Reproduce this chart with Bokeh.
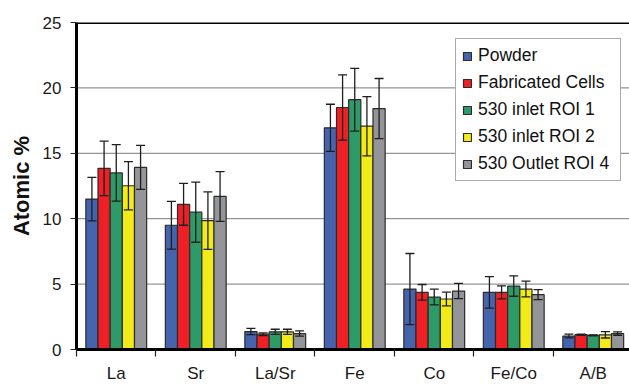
from bokeh.plotting import figure
from bokeh.models import (ColumnDataSource, FixedTicker, LinearAxis, Range1d,
                          Whisker, TeeHead, Legend, LegendItem, Span)
from bokeh.embed import file_html
from bokeh.resources import INLINE

# Composition of the cathode, atomic % with standard deviations
categories = ["La", "Sr", "La/Sr", "Fe", "Co", "Fe/Co", "A/B"]
series_names = ["Powder", "Fabricated Cells", "530 inlet ROI 1",
                "530 inlet ROI 2", "530 Outlet ROI 4"]

powder = [11.5, 9.5, 1.37, 16.95, 4.62, 4.37, 1.03]
powder_err = [1.66, 1.83, 0.24, 1.8, 2.72, 1.2, 0.14]
fabricated = [13.85, 11.1, 1.17, 18.5, 4.37, 4.37, 1.13]
fabricated_err = [2.08, 1.6, 0.1, 2.5, 0.6, 0.5, 0.05]
roi1 = [13.5, 10.5, 1.35, 19.1, 4.01, 4.85, 1.08]
roi1_err = [2.16, 2.3, 0.2, 2.4, 0.6, 0.78, 0.04]
roi2 = [12.52, 9.85, 1.35, 17.07, 3.86, 4.62, 1.12]
roi2_err = [1.84, 2.2, 0.2, 2.27, 0.52, 0.6, 0.24]
roi4 = [13.92, 11.7, 1.22, 18.42, 4.47, 4.19, 1.22]
roi4_err = [1.68, 1.9, 0.2, 2.3, 0.58, 0.38, 0.13]

y_ticks = [0, 5, 10, 15, 20, 25]

values = [powder, fabricated, roi1, roi2, roi4]
errors = [powder_err, fabricated_err, roi1_err, roi2_err, roi4_err]
colors = ["#4664AE", "#EE2025", "#2E9A68", "#F3EA1A", "#949598"]

FONT = "Liberation Sans"
n = len(categories)
bar_w = 0.153

p = figure(width=629, height=385, output_backend="svg", toolbar_location=None,
           x_range=Range1d(0, 6.956), y_range=Range1d(0, 25),
           x_axis_type=None, y_axis_type=None,
           min_border_left=76, min_border_right=0, min_border_top=22,
           min_border_bottom=35, outline_line_color=None,
           background_fill_color="white", border_fill_color="white")

# y axis
yaxis = LinearAxis(ticker=FixedTicker(ticks=y_ticks, minor_ticks=[]))
yaxis.axis_line_width = 3
yaxis.axis_line_color = "black"
yaxis.major_tick_out = 6
yaxis.major_tick_in = 0
yaxis.major_tick_line_color = "#222222"
yaxis.major_tick_line_width = 1
yaxis.major_label_text_font = FONT
yaxis.major_label_text_font_size = "17px"
yaxis.major_label_text_color = "#1a1a1a"
yaxis.major_label_standoff = 9
yaxis.axis_label = "Atomic %"
yaxis.axis_label_text_font = FONT
yaxis.axis_label_text_font_style = "bold"
yaxis.axis_label_text_font_size = "22px"
yaxis.axis_label_text_color = "#111111"
yaxis.axis_label_standoff = 6
p.add_layout(yaxis, "left")

# x axis: labels at group centres, ticks at group boundaries
centers = [i + 0.5 for i in range(n)]
bounds = list(range(n + 1))
xaxis = LinearAxis(ticker=FixedTicker(ticks=centers, minor_ticks=bounds))
xaxis.major_label_overrides = {c: name for c, name in zip(centers, categories)}
xaxis.axis_line_width = 3
xaxis.axis_line_color = "black"
xaxis.major_tick_out = 0
xaxis.major_tick_in = 0
xaxis.minor_tick_out = 7
xaxis.minor_tick_in = 0
xaxis.minor_tick_line_color = "#222222"
xaxis.minor_tick_line_width = 1.2
xaxis.major_label_text_font = FONT
xaxis.major_label_text_font_size = "17px"
xaxis.major_label_text_color = "#1a1a1a"
xaxis.major_label_standoff = 7
p.add_layout(xaxis, "below")

# horizontal grid lines
for t in y_ticks[1:-1]:
    p.add_layout(Span(location=t, dimension="width", line_color="#7a7a7a",
                      line_width=1, level="underlay"))
p.add_layout(Span(location=25, dimension="width", line_color="black",
                  line_width=3))

legend_items = []
for k, (name, vals, errs, col) in enumerate(zip(series_names, values, errors, colors)):
    xs = [c + (k - 2) * bar_w for c in centers]
    src = ColumnDataSource(dict(
        x=xs, top=vals,
        upper=[v + e for v, e in zip(vals, errs)],
        lower=[v - e for v, e in zip(vals, errs)],
    ))
    r = p.vbar(x="x", top="top", bottom=0, width=bar_w, source=src,
               fill_color=col, line_color="#2b2b2b", line_width=1.2)
    legend_items.append(LegendItem(label=name, renderers=[r]))
    w = Whisker(source=src, base="x", upper="upper", lower="lower",
                dimension="height", line_color="#1e1e1e", line_width=1.3,
                upper_head=TeeHead(size=9, line_color="#1e1e1e", line_width=1.3),
                lower_head=TeeHead(size=9, line_color="#1e1e1e", line_width=1.3),
                level="overlay")
    p.add_layout(w)

legend = Legend(items=legend_items, location=(379, 168))
legend.label_text_font = FONT
legend.label_text_font_size = "17.5px"
legend.label_text_color = "#111111"
legend.label_height = 20
legend.label_width = 136
legend.glyph_height = 10
legend.glyph_width = 10
legend.spacing = 6
legend.padding = 6
legend.margin = 0
legend.label_standoff = 6
legend.border_line_color = "#555555"
legend.border_line_width = 1
legend.background_fill_color = "white"
legend.background_fill_alpha = 1
p.add_layout(legend, "center")

open("out.html", "w").write(file_html(p, INLINE))
